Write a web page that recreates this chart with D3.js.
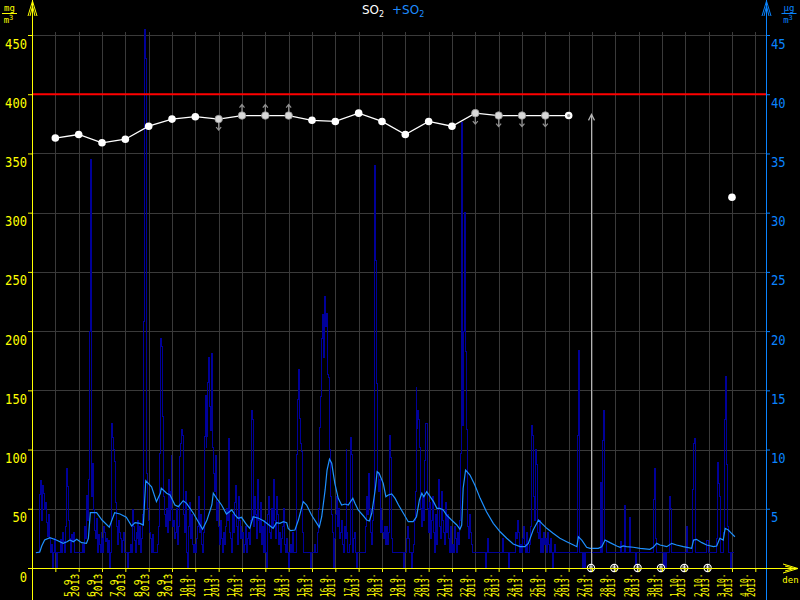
<!DOCTYPE html>
<html><head><meta charset="utf-8">
<script src="https://cdn.jsdelivr.net/npm/d3@7"></script>
<style>body{margin:0;background:#000;} svg{display:block;}</style>
</head><body><svg id="c" width="800" height="600"></svg>
<script>
// ---------------- DATA ----------------
// hourly SO2 (µg/m3, right axis), starting 4.9.2013 04:00
const so2Start = new Date(2013, 8, 4, 4, 0);
const so2Hourly = [
 // 4.9 (from 04:00)
 1.3,1.3,1.3,1.3,6.2,7.4,4.0,7.0,6.3,4.9,5.5,3.8,2.7,4.5,2.5,1.3,2.0,0,1.3,2.5,
 // 5.9
 1.3,0,1.3,1.3,1.3,2.4,1.3,3.0,2.2,1.3,3.5,5.0,8.4,6.9,4.0,2.5,1.3,2.8,2.3,3.0,1.3,1.3,1.3,1.3,
 // 6.9
 1.3,1.3,1.3,1.3,2.0,1.3,3.5,2.5,6.1,4.0,7.5,20.0,34.5,6.0,8.8,4.9,3.2,2.5,4.2,1.3,2.8,2.0,1.3,3.0,
 // 7.9
 2.5,1.3,3.5,3.0,2.2,2.5,1.3,2.3,0,1.3,12.2,11.0,10.0,9.0,5.5,3.5,2.0,4.0,3.0,2.5,1.3,2.3,3.0,1.3,
 // 8.9
 1.3,1.3,0,1.3,1.3,2.0,1.3,4.9,3.5,2.3,1.3,3.0,2.5,4.0,2.0,3.5,1.3,2.5,4.5,20.8,45.5,43.0,8.0,5.0,
 // 9.9
 4.0,3.0,2.5,1.3,2.8,1.3,1.3,1.3,1.3,2.0,3.5,9.7,19.4,18.7,12.8,6.0,4.5,3.5,5.0,3.0,7.5,4.0,6.5,9.5,
 // 10.9
 5.0,3.5,4.0,2.5,3.0,5.0,2.0,3.5,9.4,10.5,11.7,11.2,4.5,3.0,6.5,1.3,0,3.5,5.5,2.5,4.5,2.0,1.3,2.0,
 // 11.9
 1.3,2.5,3.5,6.0,3.0,4.5,2.0,1.3,3.0,11.1,14.6,10.2,11.1,15.7,17.8,13.6,11.6,18.1,10.2,8.0,6.5,9.5,4.0,5.5,
 // 12.9
 3.5,2.0,4.0,2.5,1.3,3.0,2.0,3.5,5.0,4.0,10.9,3.0,2.5,1.3,4.5,3.0,5.5,7.0,3.5,2.0,6.0,4.0,2.5,3.5,
 // 13.9
 2.5,3.0,1.3,2.0,3.5,1.3,2.5,3.0,2.0,4.0,13.3,12.5,3.5,6.0,4.5,2.5,7.5,4.0,3.0,5.5,2.0,3.5,1.3,4.0,
 // 14.9
 1.3,0,4.5,6.0,3.0,2.5,5.0,3.5,7.5,4.0,2.5,3.0,6.0,4.5,2.0,3.0,1.3,2.5,3.5,5.0,2.0,1.3,2.5,1.3,
 // 15.9
 0,1.3,2.0,1.3,3.0,1.3,1.3,1.3,9.6,14.2,16.8,12.6,10.5,9.8,3.0,1.3,1.3,1.3,1.3,1.3,1.3,1.3,0,1.3,
 // 16.9
 1.3,1.3,1.3,2.0,1.3,1.3,3.0,5.0,11.9,14.5,19.4,21.4,17.8,22.9,20.4,21.5,16.3,16.1,10.0,6.0,4.5,3.0,0,2.5,
 // 17.9
 4.5,6.0,3.5,5.0,2.5,3.0,4.0,2.0,1.3,3.5,2.5,10.0,3.0,1.3,1.3,2.0,11.0,9.6,1.3,2.5,3.0,1.3,0,1.3,
 // 18.9
 1.3,1.3,1.3,1.3,1.3,1.3,1.3,3.5,6.0,4.5,8.0,5.0,3.0,2.0,4.0,5.0,34.0,26.0,15.6,8.0,6.5,7.5,3.0,5.0,
 // 19.9
 4.0,3.0,2.5,3.5,2.0,3.5,2.0,3.0,11.2,9.3,2.5,1.3,1.3,1.3,1.3,1.3,1.3,1.3,1.3,1.3,1.3,1.3,0,1.3,
 // 20.9
 1.3,2.5,3.5,2.5,1.3,1.3,0,1.3,2.0,4.0,6.5,15.2,11.8,13.3,12.5,10.2,5.0,3.5,6.0,4.0,9.1,12.2,12.2,5.0,
 // 21.9
 3.0,5.5,2.5,4.0,6.0,3.0,1.3,4.5,2.0,5.0,7.5,3.5,2.5,6.5,4.0,3.0,2.0,5.5,3.0,4.5,2.5,1.3,3.5,2.0,
 // 22.9
 1.3,2.0,1.3,3.5,2.5,1.3,3.0,2.0,4.0,9.7,37.6,12.0,20.0,30.0,18.3,11.7,3.5,2.5,4.5,3.0,2.0,1.3,1.3,1.3,
 // 23.9
 1.3,1.3,1.3,1.3,1.3,1.3,1.3,1.3,1.3,1.3,0,1.3,1.3,2.5,1.3,1.3,1.3,1.3,1.3,1.3,1.3,1.3,1.3,1.3,
 // 24.9
 1.3,1.3,1.3,1.3,2.5,1.3,1.3,1.3,1.3,1.3,0,1.3,1.3,1.3,1.3,1.3,1.3,3.0,2.5,4.0,3.0,1.3,2.0,1.3,
 // 25.9
 1.3,2.5,3.5,2.0,1.3,3.0,1.3,1.3,2.0,3.5,12.0,11.2,6.0,4.0,10.0,8.7,3.0,2.5,4.0,1.3,2.5,1.3,3.0,2.0,
 // 26.9
 2.5,1.3,3.0,2.0,1.3,2.5,1.3,0,1.3,2.0,1.3,1.3,1.3,1.3,1.3,1.3,1.3,1.3,1.3,1.3,1.3,1.3,1.3,1.3,
 // 27.9
 1.3,1.3,1.3,1.3,1.3,1.3,1.3,1.3,1.3,11.2,18.4,1.3,1.3,1.3,0,1.3,0,1.3,1.3,1.3,1.3,1.3,1.3,1.3,
 // 28.9
 1.3,1.3,1.3,1.3,1.3,1.3,1.3,1.3,1.3,7.2,1.3,10.8,13.3,2.3,2.3,1.3,1.3,1.3,1.3,1.3,1.3,1.3,1.3,1.3,
 // 29.9
 1.3,1.3,1.3,1.3,1.3,2.2,1.3,1.3,1.3,5.3,1.3,1.3,1.3,1.3,1.3,4.3,1.3,1.3,1.3,1.3,1.3,0,1.3,1.3,
 // 30.9
 1.3,1.3,1.3,1.3,1.3,1.3,1.3,1.3,1.3,1.3,1.3,1.3,1.3,1.3,1.3,5.8,8.4,2.5,1.3,1.3,1.3,1.3,1.3,1.3,
 // 1.10
 1.3,1.3,0,1.3,0,1.3,1.3,1.3,6.0,5.0,1.3,1.3,1.3,1.3,1.3,1.3,1.3,1.3,1.3,1.3,1.3,1.3,1.3,1.3,
 // 2.10
 1.3,3.5,1.3,1.3,1.3,1.3,1.3,6.6,10.5,10.9,1.3,1.3,1.3,1.3,1.3,1.3,1.3,1.3,1.3,1.3,1.3,1.3,2.3,2.3,
 // 3.10
 1.3,1.3,1.3,1.3,1.3,1.3,1.3,1.3,2.5,8.9,7.1,6.0,1.3,1.3,1.3,3.0,12.5,16.2,8.7,3.5,1.3,1.3,0,1.3,
 // 4.10
 1.3,1.3,1.3
];

// running average of SO2 (µg/m3): [hours since 4.9.2013 00:00, value]
const avgStart = new Date(2013, 8, 4, 0, 0);
const avgPoints = [
 [4,1.29],[8,1.35],[10,1.86],[13,2.36],[18.5,2.56],[25,2.36],[32,2.08],[36,2.22],[39,2.36],[42.5,2.22],
 [46,2.42],[51,2.14],[56,2.08],[58,2.51],[60,4.67],[66.5,4.67],[72,4.05],[79.5,3.44],[85,4.67],[90.5,4.56],
 [97,4.28],[102.5,3.55],[106,3.83],[111,3.77],[114.5,3.63],[117,7.37],[123,6.86],[128,5.60],[132,6.31],[133,6.73],
 [138.5,6.31],[142,6.16],[147,5.32],[150.5,5.18],[155.5,5.68],[159,5.46],[166,4.62],[171,3.91],[175.5,3.27],[180,4.05],
 [185,5.32],[186.5,6.31],[190,5.88],[195,5.32],[200,4.56],[205.5,4.90],[209,4.47],[212,4.20],[215.5,4.28],[221,3.63],
 [224,3.35],[227.5,4.33],[233,4.20],[238,3.99],[241.5,3.77],[245,3.55],[248,3.35],[251.5,3.83],[255,3.77],[258.5,3.91],
 [262,3.83],[263.5,3.35],[266,3.15],[270.5,3.21],[274,4.05],[279,5.60],[282.5,5.32],[287.5,4.47],[293,3.77],[295.5,3.44],
 [298,4.33],[301.5,6.59],[303.5,8.27],[306,9.18],[308.3,8.84],[311.5,7.15],[315,5.88],[318.5,5.32],[322,5.40],[325.3,5.32],
 [330,5.88],[332.2,5.46],[335.5,4.90],[341,4.39],[344.3,4.05],[347,3.97],[349.5,4.62],[353,6.59],[355,8.13],[357,8.00],
 [361.3,7.15],[364,6.02],[366.5,6.16],[370,6.25],[373.5,5.88],[377,5.32],[382,4.62],[387,3.91],[392,3.91],[395.5,4.33],
 [398.5,5.74],[401,6.31],[403,6.02],[406,6.44],[409.5,6.02],[413,5.60],[416.5,5.04],[419.5,5.04],[423,4.90],[426.5,4.47],
 [431.5,4.05],[437,3.63],[440.2,3.27],[442,3.63],[443.5,6.73],[446,8.27],[450.5,7.85],[455.5,7.01],[461,5.88],[467.5,4.75],
 [474.5,3.77],[481.5,3.06],[488.3,2.51],[495,2.03],[502,1.80],[507,1.80],[510.5,2.08],[515.5,3.21],[521,4.05],[524.3,3.77],
 [529.5,3.35],[536,2.93],[543,2.51],[550,2.22],[557,1.94],[560.5,1.80],[562,2.64],[565.5,2.36],[570.5,1.75],[574,1.66],
 [582.5,1.66],[586,1.80],[589.5,2.36],[594.5,2.14],[601.5,1.86],[605,1.75],[608,1.86],[611.5,1.80],[618.5,1.75],[625.5,1.66],
 [635.5,1.58],[639,1.75],[642.5,2.08],[646,1.94],[653,1.80],[658,2.08],[663,1.94],[670,1.80],[678.5,1.66],[680.5,2.36],
 [683.5,2.42],[689,2.14],[694,1.94],[701,1.80],[704.3,1.86],[707.5,2.51],[711,2.36],[713,3.35],[716.2,3.21],[719.5,2.93],
 [723,2.64]
];

// daily SO2 (mg/m3, left axis)
const dailyDays   = ["5.9.","6.9.","7.9.","8.9.","9.9.","10.9.","11.9.","12.9.","13.9.","14.9.","15.9.","16.9.",
                     "17.9.","18.9.","19.9.","20.9.","21.9.","22.9.","23.9.","24.9.","25.9.","26.9.","27.9.","4.10."];
const dailyValues = [363,366,359,362,373,379,381,379,382,382,382,378,377,384,377,366,377,373,384,382,382,382,382,313];
const dailyFlags  = ["","","","","","","","d","u","u","u","","","","","","","","d","d","d","d","r",""];
const missingDays = ["28.9.","29.9.","30.9.","1.10.","2.10.","3.10."];
const markerLineDay = "28.9.";
const markerLineValue = 383;

const dayLabels = ["5.9.","6.9.","7.9.","8.9.","9.9.","10.9.","11.9.","12.9.","13.9.","14.9.","15.9.","16.9.",
                   "17.9.","18.9.","19.9.","20.9.","21.9.","22.9.","23.9.","24.9.","25.9.","26.9.","27.9.",
                   "28.9.","29.9.","30.9.","1.10.","2.10.","3.10.","4.10."];
const yearLabel = "2013";
const leftTicks  = [0,50,100,150,200,250,300,350,400,450];
const rightTicks = [5,10,15,20,25,30,35,40,45];
const limitValue = 400;

// ---------------- CHART ----------------
const parseDay = s => { const p = s.split("."); return new Date(2013, +p[1]-1, +p[0]); };
const svg = d3.select("#c");
const L = 32, R = 766, T = 35, B = 568;
const x = d3.scaleTime().domain([new Date(2013,8,4,0,0), new Date(2013,9,5,11,0)]).range([L, R]);
const yL = d3.scaleLinear().domain([0,450]).range([B, T]);
const yR = d3.scaleLinear().domain([0,45]).range([B, T]);
const px = v => Math.round(v) + 0.5;
const YEL = "#ffff00", BLU = "#1e8cff", AXB = "#0a84ff", GRID = "#3a3a3a";

svg.append("rect").attr("width",800).attr("height",600).attr("fill","#000");

// grid
const dayTicks = d3.timeDay.range(new Date(2013,8,5), new Date(2013,9,6));
const g = svg.append("g").attr("shape-rendering","crispEdges").attr("stroke",GRID).attr("stroke-width",1);
leftTicks.filter(v=>v>0).forEach(v => g.append("line").attr("x1",L).attr("x2",R).attr("y1",px(yL(v))).attr("y2",px(yL(v))));
dayTicks.forEach(d => g.append("line").attr("x1",px(x(d))).attr("x2",px(x(d))).attr("y1",32).attr("y2",B));

// hourly SO2 (dark blue step line)
const hourly = so2Hourly.map((v,i) => ({t: d3.timeHour.offset(so2Start, i), v}));
svg.append("path").datum(hourly)
  .attr("fill","none").attr("stroke","#00009a").attr("stroke-width",1).attr("shape-rendering","crispEdges")
  .attr("d", d3.line().x(d=>x(d.t)).y(d=>yR(d.v)).curve(d3.curveStepAfter));

// running average (light blue)
svg.append("path").datum(avgPoints)
  .attr("fill","none").attr("stroke","#1e90ff").attr("stroke-width",1.2)
  .attr("d", d3.line().x(d=>x(new Date(+avgStart + d[0]*3600e3))).y(d=>yR(d[1])));

// limit line
svg.append("line").attr("x1",L).attr("x2",R).attr("y1",yL(limitValue)).attr("y2",yL(limitValue))
  .attr("stroke","#ff0000").attr("stroke-width",2);

// marker line with arrow
const mlx = px(x(parseDay(markerLineDay))) - 1;
const mly = yL(markerLineValue);
svg.append("line").attr("x1",mlx).attr("x2",mlx).attr("y1",mly).attr("y2",B)
  .attr("stroke","#b4b4b4").attr("stroke-width",1);
svg.append("path").attr("d",`M${mlx-3},${mly+6}L${mlx},${mly}L${mlx+3},${mly+6}`)
  .attr("fill","none").attr("stroke","#b4b4b4").attr("stroke-width",1.2);

// daily line
const daily = dailyDays.map((s,i)=>({t: parseDay(s), v: dailyValues[i], f: dailyFlags[i]}));
const contiguous = daily.slice(0, daily.length-1);
svg.append("path").datum(contiguous).attr("fill","none").attr("stroke","#fff").attr("stroke-width",1.3)
  .attr("d", d3.line().x(d=>x(d.t)).y(d=>yL(d.v)));
daily.forEach(d => {
  const cx = x(d.t), cy = yL(d.v);
  if (d.f === "d" || d.f === "u") {
    const dir = d.f === "d" ? 1 : -1;
    svg.append("path").attr("d",`M${cx},${cy+dir*3}L${cx},${cy+dir*11}M${cx-2.5},${cy+dir*8}L${cx},${cy+dir*11}L${cx+2.5},${cy+dir*8}`)
      .attr("fill","none").attr("stroke","#909090").attr("stroke-width",1.2);
    svg.append("circle").attr("cx",cx).attr("cy",cy).attr("r",3.8).attr("fill","#d8d8d8").attr("stroke","#909090").attr("stroke-width",0.8);
  } else if (d.f === "r") {
    svg.append("circle").attr("cx",cx).attr("cy",cy).attr("r",3.8).attr("fill","#fff");
    svg.append("circle").attr("cx",cx).attr("cy",cy).attr("r",1.6).attr("fill","#909090");
  } else {
    svg.append("circle").attr("cx",cx).attr("cy",cy).attr("r",3.8).attr("fill","#fff");
  }
});

// missing day markers on the axis
missingDays.forEach(s => {
  const cx = x(parseDay(s)) - 1;
  svg.append("circle").attr("cx",cx).attr("cy",B).attr("r",3.6).attr("fill","#000").attr("stroke","#fff").attr("stroke-width",1.1);
  svg.append("path").attr("d",`M${cx},${B-3}L${cx},${B+3}M${cx-2},${B-1}L${cx+2},${B-1}`).attr("stroke","#fff").attr("stroke-width",1);
});

// axes lines
const ax = svg.append("g").attr("shape-rendering","crispEdges");
ax.append("line").attr("x1",L+0.5).attr("x2",L+0.5).attr("y1",0).attr("y2",600).attr("stroke",YEL);
ax.append("line").attr("x1",R+0.5).attr("x2",R+0.5).attr("y1",0).attr("y2",600).attr("stroke",AXB);
ax.append("line").attr("x1",L).attr("x2",797).attr("y1",B+0.5).attr("y2",B+0.5).attr("stroke",YEL);

// arrows
svg.append("path").attr("d",`M28,16L${L+0.5},1L37,16M30,16L${L+0.5},6L35,16`).attr("fill","none").attr("stroke",YEL).attr("stroke-width",1);
svg.append("path").attr("d",`M762,16L${R+0.5},1L771,16M764,16L${R+0.5},6L769,16`).attr("fill","none").attr("stroke",AXB).attr("stroke-width",1);
svg.append("path").attr("d",`M783,564L798,${B+0.5}L783,573M785,566L794,${B+0.5}L785,571`).attr("fill","none").attr("stroke",YEL).attr("stroke-width",1);

// left axis ticks + labels
const leftAxis = d3.axisLeft(yL).tickValues(leftTicks).tickSize(4).tickPadding(4).tickFormat(d3.format("d"));
const la = svg.append("g").attr("transform",`translate(${L},0)`).call(leftAxis);
la.select(".domain").remove();
la.selectAll("line").attr("stroke",YEL);
la.selectAll("text").attr("fill",YEL).attr("dy",null).attr("y",13).attr("x",-5)
  .style("font-family","DejaVu Sans Mono, monospace").style("font-size","14px")
  .attr("textLength", d => String(d).length*7.3).attr("lengthAdjust","spacingAndGlyphs");

// right axis ticks + labels
const rightAxis = d3.axisRight(yR).tickValues(rightTicks).tickSize(4).tickPadding(1).tickFormat(d3.format("d"));
const ra = svg.append("g").attr("transform",`translate(${R},0)`).call(rightAxis);
ra.select(".domain").remove();
ra.selectAll("line").attr("stroke",AXB);
ra.selectAll("text").attr("fill",AXB).attr("dy",null).attr("y",13).attr("x",5)
  .style("font-family","DejaVu Sans Mono, monospace").style("font-size","14px")
  .attr("textLength", d => String(d).length*7.3).attr("lengthAdjust","spacingAndGlyphs");

// bottom ticks
const bottomAxis = d3.axisBottom(x).tickValues(dayTicks).tickSize(4).tickFormat("");
const ba = svg.append("g").attr("transform",`translate(0,${B})`).call(bottomAxis);
ba.select(".domain").remove();
ba.selectAll("line").attr("stroke",YEL);

// day labels (rotated, two lines), kept inside the picture
const topY = 573, botY = 597;
dayLabels.forEach((s,i) => {
  const tx = x(parseDay(s));
  const n = Math.max(s.length, yearLabel.length);
  const cw = (botY - topY) / n;
  [[s, tx+16.5],[yearLabel, tx+23.5]].forEach(([txt, bx]) => {
    svg.append("text").attr("transform",`translate(${bx},${botY}) rotate(-90)`)
      .attr("fill",YEL).style("font-family","DejaVu Sans Mono, monospace").style("font-size","9.6px")
      .attr("textLength", txt.length*cw - 0.6).attr("lengthAdjust","spacingAndGlyphs")
      .text(txt);
  });
});

// units
function unit(cx, color, top) {
  const gg = svg.append("g").attr("fill",color).style("font-family","DejaVu Sans Mono, monospace").style("font-size","9px");
  gg.append("text").attr("x",cx).attr("y",11).attr("text-anchor","middle").text(top);
  gg.append("line").attr("x1",cx-7.5).attr("x2",cx+7.5).attr("y1",13.5).attr("y2",13.5).attr("stroke",color).attr("stroke-width",1);
  const t = gg.append("text").attr("x",cx-1).attr("y",23).attr("text-anchor","middle");
  t.append("tspan").text("m");
  t.append("tspan").attr("dy",-3).style("font-size","7px").text("3");
}
unit(9.5, YEL, "mg");
unit(789, AXB, "µg");

// title
const title = svg.append("text").attr("y",14).style("font-family","DejaVu Sans, sans-serif").style("font-size","12px");
title.append("tspan").attr("x",362).attr("fill","#fff").text("SO");
title.append("tspan").attr("fill","#fff").attr("dy",3).style("font-size","8px").text("2");
title.append("tspan").attr("x",392).attr("dy",-3).attr("fill",BLU).text("+SO");
title.append("tspan").attr("fill",BLU).attr("dy",3).style("font-size","8px").text("2");

// x axis name
svg.append("text").attr("x",790.5).attr("y",583).attr("text-anchor","middle").attr("fill",YEL)
  .style("font-family","DejaVu Sans Mono, monospace").style("font-size","9px").text("den");
</script></body></html>
